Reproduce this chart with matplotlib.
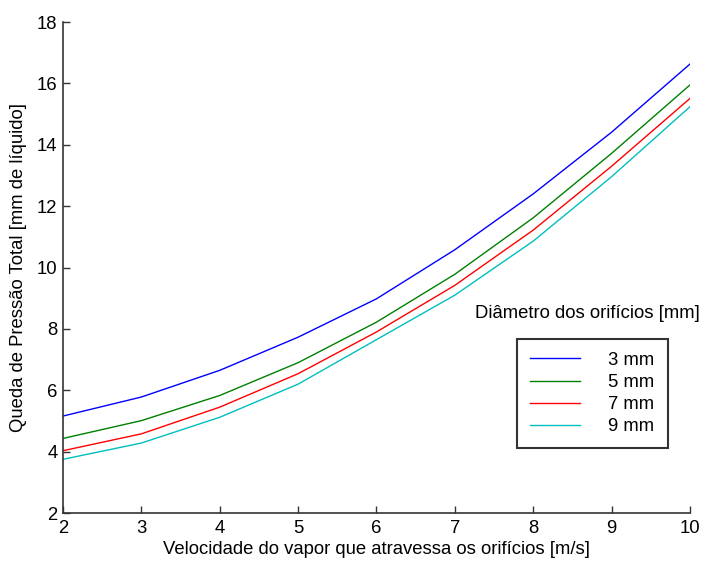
import matplotlib
matplotlib.use("Agg")
import matplotlib.pyplot as plt

plt.rcParams['font.family'] = ['Liberation Sans', 'DejaVu Sans']
plt.rcParams['font.size'] = 13.3

velocidade = [2, 3, 4, 5, 6, 7, 8, 9, 10]
d3 = [5.16, 5.78, 6.65, 7.73, 8.98, 10.58, 12.40, 14.41, 16.63]
d5 = [4.43, 5.01, 5.83, 6.90, 8.22, 9.78, 11.62, 13.72, 15.95]
d7 = [4.03, 4.58, 5.45, 6.54, 7.90, 9.42, 11.22, 13.30, 15.51]
d9 = [3.75, 4.28, 5.12, 6.20, 7.65, 9.10, 10.86, 12.96, 15.24]
rotulos = ['3 mm', '5 mm', '7 mm', '9 mm']
cores = ['#0000ff', '#008000', '#ff0000', '#00bfbf']

fig = plt.figure(figsize=(7.04, 5.63), dpi=100)
ax = fig.add_axes([0.0895, 0.0888, 0.8905, 0.872])

for serie, cor, rot in zip([d3, d5, d7, d9], cores, rotulos):
    ax.plot(velocidade, serie, color=cor, lw=1.0, label=rot)

ax.set_xlim(2, 10)
ax.set_ylim(2, 18)
ax.set_xticks(range(2, 11))
ax.set_yticks(range(2, 19, 2))
ax.spines['top'].set_visible(False)
ax.spines['right'].set_visible(False)
for s in ['left', 'bottom']:
    ax.spines[s].set_color('#333333')
    ax.spines[s].set_linewidth(1.2)
ax.tick_params(direction='in', length=5, width=1, color='#333333', labelsize=13.3)
ax.tick_params(axis='x', pad=5)
ax.tick_params(axis='y', pad=4)

ax.set_xlabel('Velocidade do vapor que atravessa os orifícios [m/s]', labelpad=3)
ax.set_ylabel('Queda de Pressão Total [mm de líquido]', labelpad=7)

leg = ax.legend(loc='upper left', bbox_to_anchor=(517 / 704, 1 - 339 / 563),
                bbox_transform=fig.transFigure, frameon=True, fancybox=False,
                edgecolor='black', handlelength=2.7, handletextpad=1.55,
                labelspacing=0.28, borderpad=0.7, borderaxespad=0)
leg.get_frame().set_linewidth(1.5)
fig.text(587 / 704, 1 - 314 / 563, 'Diâmetro dos orifícios [mm]', ha='center', va='center')

fig.savefig('out.png', dpi=100)
